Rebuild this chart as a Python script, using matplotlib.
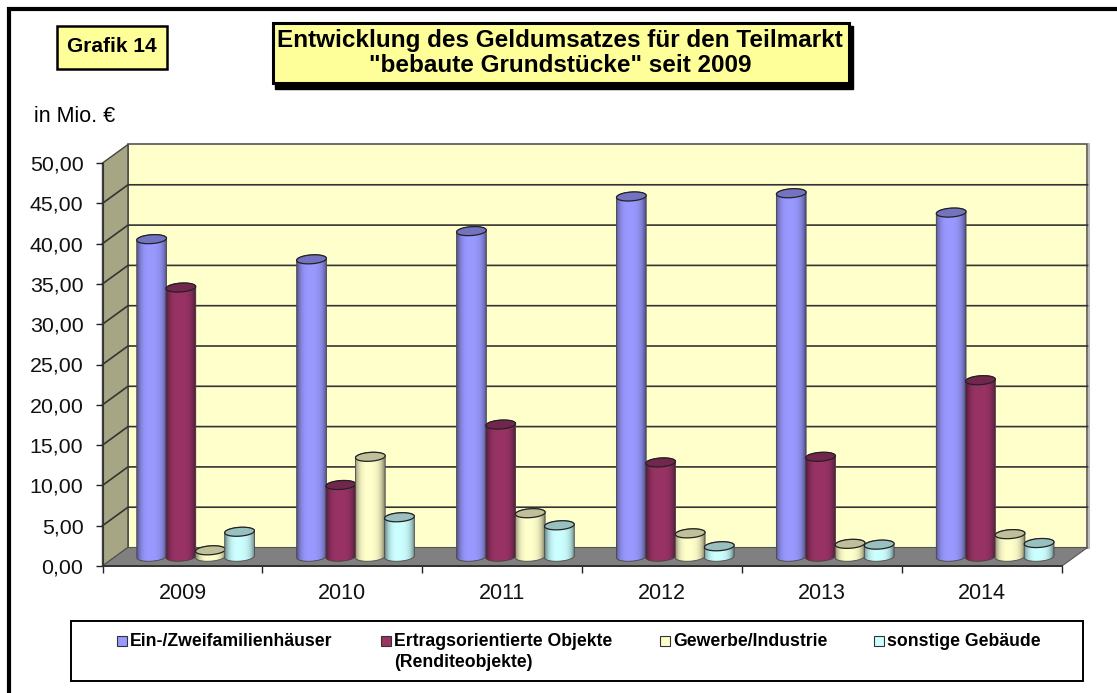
import matplotlib
matplotlib.use('Agg')
import matplotlib.pyplot as plt
from matplotlib.patches import Polygon, Rectangle
import numpy as np

plt.rcParams['font.family'] = ['Liberation Sans', 'DejaVu Sans']

jahre = ['2009', '2010', '2011', '2012', '2013', '2014']
ein_zwei = [39.4, 36.9, 40.4, 44.7, 45.1, 42.7]
ertrag = [33.4, 8.9, 16.4, 11.7, 12.4, 21.9]
gewerbe = [0.8, 12.4, 5.4, 2.9, 1.6, 2.8]
sonstige = [3.1, 4.9, 3.9, 1.3, 1.5, 1.7]
y_ticks = [0, 5, 10, 15, 20, 25, 30, 35, 40, 45, 50]

farben = ['#9999FF', '#993366', '#FFFFCC', '#CCFFFF']
deckel = ['#7373BF', '#73264D', '#BFBF99', '#99BFBF']
namen = ['Ein-/Zweifamilienhäuser', 'Ertragsorientierte Objekte\n(Renditeobjekte)',
         'Gewerbe/Industrie', 'sonstige Gebäude']
W, H = 1117, 693

fig = plt.figure(figsize=(W / 100, H / 100), dpi=100)
fig.patch.set_facecolor('white')

# Diagramm-Achse = vordere Ebene des 3D-Diagramms
links, rechts, oben, unten = 102.5, 1062, 163, 566
ax = fig.add_axes([links / W, 1 - unten / H, (rechts - links) / W, (unten - oben) / H])
ax.set_xlim(0, 6)
ax.set_ylim(0, 50)
ax.patch.set_visible(False)

tx = 25.5 / 160   # Tiefe in x (Kategorien)
ty = 18.5 / 8.06  # Tiefe in y (Werte)

ax.add_patch(Polygon([(tx, ty), (6 + tx, ty), (6 + tx, 50 + ty), (tx, 50 + ty)],
                     fc='#FFFFCC', ec='#555555', lw=1.2, zorder=1))
ax.plot([6 + tx + 0.012] * 2, [ty, 50 + ty], color='#BBBBBB', lw=1.5, clip_on=False, zorder=1)
ax.add_patch(Polygon([(0, 0), (tx, ty), (tx, 50 + ty), (0, 50)],
                     fc='#A6A684', ec='#444444', lw=1, zorder=1))
ax.add_patch(Polygon([(0, 0), (6, 0), (6 + tx, ty), (tx, ty)],
                     fc='#808080', ec='#555555', lw=0.8, zorder=1))
for t in y_ticks[1:-1]:
    ax.plot([0, tx, 6 + tx], [t, t + ty, t + ty], color='#333333', lw=1.2, clip_on=False, zorder=2)
for p in ax.patches:
    p.set_clip_on(False)


def zylinder(xm, wert, farbe, deckfarbe, z):
    a = 0.093
    b = 0.55
    kipp = 1.3
    boden = 1.15
    t = np.linspace(0, np.pi, 60)
    kx = a * np.cos(t)
    # obere Hälfte vom Deckel, dann untere Hälfte vom Boden
    umriss = np.vstack([np.column_stack([xm + kx, boden + wert + b * np.sin(t) + kipp * kx]),
                        np.column_stack([xm - kx, boden - b * np.sin(t) - kipp * kx])])
    rand = Polygon(umriss, fc=farbe, ec='none', zorder=z)
    ax.add_patch(rand)
    # Schattierung von links nach rechts
    basis = np.array(matplotlib.colors.to_rgb(farbe))
    s = np.linspace(-1, 1, 64)
    hell = 1 - 0.45 * np.abs(s) ** 3.5 - 0.05 * np.clip(s, 0, 1)
    bild = (basis[None, None, :] * hell[None, :, None]).clip(0, 1)
    im = ax.imshow(bild, extent=(xm - a, xm + a, boden - 1, boden + wert + 1), aspect='auto',
                   zorder=z, interpolation='bilinear')
    im.set_clip_path(rand)
    ax.add_patch(Polygon(umriss, fc='none', ec='#444444', lw=0.6, zorder=z + 0.1, clip_on=False))
    t2 = np.linspace(0, 2 * np.pi, 80)
    kx2 = a * np.cos(t2)
    top = np.column_stack([xm + kx2, boden + wert + b * np.sin(t2) + kipp * kx2])
    ax.add_patch(Polygon(top, fc=deckfarbe, ec='#222222', lw=0.9, zorder=z + 0.2, clip_on=False))


reihen = [ein_zwei, ertrag, gewerbe, sonstige]
versatz = [-0.193, -0.01, 0.175, 0.357]
for i in range(len(jahre)):
    for j, reihe in enumerate(reihen):
        zylinder(i + 0.5 + versatz[j], reihe[i], farben[j], deckel[j], 3 + i + j * 0.3)
ax.set_xlim(0, 6)
ax.set_ylim(0, 50)

for s in ['top', 'right']:
    ax.spines[s].set_visible(False)
ax.spines['left'].set_color('#333333')
ax.spines['bottom'].set_color('#333333')
ax.spines['bottom'].set_linewidth(1.4)
ax.set_yticks(y_ticks)
ax.set_yticklabels([f'{v:.2f}'.replace('.', ',') for v in y_ticks], fontsize=15.4, color='#111111')
ax.set_xticks(range(7))
ax.set_xticklabels([])
ax.set_xticks(np.arange(6) + 0.5, jahre, minor=True, fontsize=15.5, color='#111111')
ax.tick_params(axis='x', which='minor', length=0, pad=12)
ax.tick_params(axis='both', which='major', length=5, width=1, color='#222222')
ax.tick_params(axis='y', pad=8.7)

# Rahmen, Kästen und Legende in Pixelkoordinaten
deko = fig.add_axes([0, 0, 1, 1], zorder=5)
deko.set_xlim(0, W)
deko.set_ylim(H, 0)
deko.axis('off')
deko.patch.set_visible(False)

deko.plot([8.5, 8.5, W], [H, 8.5, 8.5], color='black', lw=3, solid_joinstyle='miter')
deko.add_patch(Rectangle((56.5, 25.5), 110.5, 43, fc='#FFFF99', ec='black', lw=1.8))
deko.text(112, 47, 'Grafik 14', fontsize=15, fontweight='bold', ha='center', va='center')
deko.add_patch(Rectangle((275, 26), 578, 63, fc='black', ec='black', lw=1))
deko.add_patch(Rectangle((272.5, 22.5), 576, 60.5, fc='#FFFF99', ec='black', lw=2.2))
deko.text(560, 53, 'Entwicklung des Geldumsatzes für den Teilmarkt\n"bebaute Grundstücke" seit 2009',
          fontsize=17.5, fontweight='bold', ha='center', va='center', linespacing=1.12)
deko.text(34, 116, 'in Mio. €', fontsize=15.5, ha='left', va='center')

deko.add_patch(Rectangle((70.5, 620.5), 1012.5, 60, fc='white', ec='black', lw=1.4))
leg_x = [117, 381, 660, 874]
for x, f, n in zip(leg_x, farben, namen):
    deko.add_patch(Rectangle((x, 636), 9.5, 10, fc=f, ec='#333333', lw=0.8))
    deko.text(x + 13, 632.5, n, fontsize=12.7, fontweight='bold', ha='left', va='top', linespacing=1.32)

fig.savefig('out.png', dpi=100)
